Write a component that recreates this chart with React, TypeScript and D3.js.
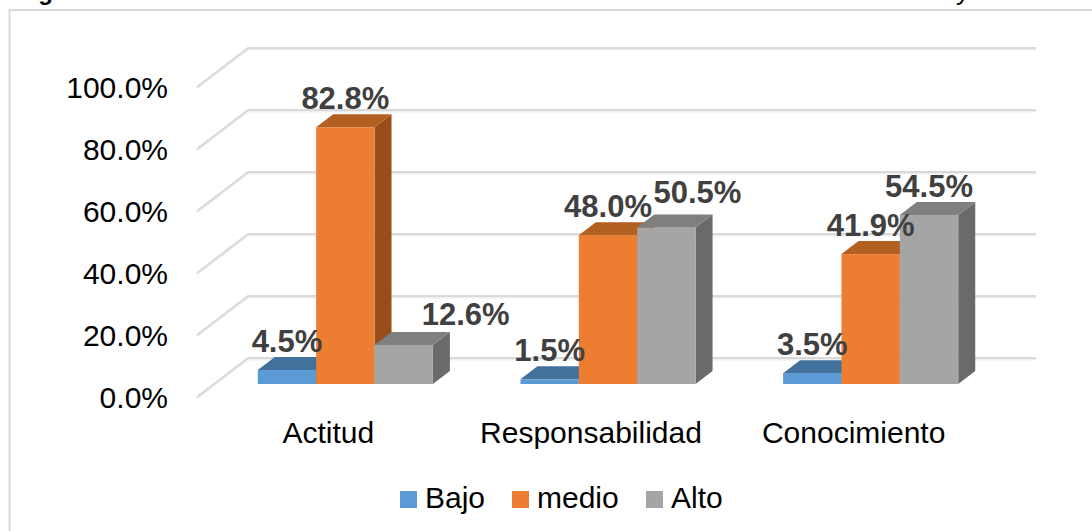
import React from "react";
import * as d3 from "d3";

const categories = ["Actitud", "Responsabilidad", "Conocimiento"];
const seriesNames = ["Bajo", "medio", "Alto"];
const bajo = [4.5, 1.5, 3.5];
const medio = [82.8, 48.0, 41.9];
const alto = [12.6, 50.5, 54.5];
const yTicks = [0, 20, 40, 60, 80, 100];

// Excel moved two labels aside to avoid collisions: [category, series, dx, extra lift]
const labelShifts: [number, number, number, number][] = [
  [0, 2, 62, 2],
  [1, 2, 31, 6],
];

const W = 1092;
const H = 531;
const FONT = "'Liberation Sans', Arial, sans-serif";

const fronts = ["#5B9BD5", "#ED7D31", "#A5A5A5"];
const tops = ["#43719E", "#B45F22", "#7F7F7F"];
const sides = ["#3A6590", "#9A4D1B", "#6A6A6A"];

export default function App() {
  const values = [bajo, medio, alto];
  const floorX0 = 197;
  const floorX1 = 985;
  const depthX = 51;
  const depthY = -39;
  const barDX = depthX / 3;
  const barDY = depthY / 3;

  const yFront = d3.scaleLinear().domain([0, 100]).range([397, 87]);
  const xCat = d3.scaleBand<string>().domain(categories).range([floorX0, floorX1]).padding(0);
  const step = xCat.step();
  const xSer = d3
    .scaleBand<string>()
    .domain(seriesNames)
    .range([0, step])
    .paddingInner(0)
    .paddingOuter(0.75);
  const bw = xSer.bandwidth();

  const yBar = (v: number) => yFront(v) + barDY;

  const bars: React.ReactNode[] = [];
  const labels: React.ReactNode[] = [];
  categories.forEach((cat, ci) => {
    seriesNames.forEach((s, si) => {
      const v = values[si][ci];
      const x0 = (xCat(cat) as number) + (xSer(s) as number) + barDX;
      const x1 = x0 + bw;
      const yt = yBar(v);
      const yb = yBar(0);
      const top = [
        [x0, yt],
        [x0 + barDX, yt + barDY],
        [x1 + barDX, yt + barDY],
        [x1, yt],
      ];
      const side = [
        [x1, yt],
        [x1 + barDX, yt + barDY],
        [x1 + barDX, yb + barDY],
        [x1, yb],
      ];
      const pts = (p: number[][]) => p.map((q) => q.join(",")).join(" ");
      bars.push(
        <g key={`${ci}-${si}`}>
          <polygon points={pts(side)} fill={sides[si]} />
          <rect x={x0} y={yt} width={bw} height={yb - yt} fill={fronts[si]} />
          <polygon points={pts(top)} fill={tops[si]} />
        </g>
      );
      const shift = labelShifts.find((d) => d[0] === ci && d[1] === si);
      const dx = shift ? shift[2] : 0;
      const lift = shift ? shift[3] : 0;
      labels.push(
        <text
          key={`l-${ci}-${si}`}
          x={x0 + bw / 2 + dx}
          y={yt + barDY - 5 - lift}
          textAnchor="middle"
          fontFamily={FONT}
          fontWeight="bold"
          fontSize={31}
          fill="#404040"
        >
          {v.toFixed(1) + "%"}
        </text>
      );
    });
  });

  const backX1 = floorX1 + depthX;

  return (
    <div style={{ position: "absolute", left: 0, top: 0 }}>
      <svg width={W} height={H} viewBox={`0 0 ${W} ${H}`}>
        <rect x={0} y={0} width={W} height={H} fill="#ffffff" />
        <text x={17} y={-0.5} fontFamily={FONT} fontWeight="bold" fontSize={24} fill="#000">
          Figura
        </text>
        <text x={958} y={-0.5} fontFamily={FONT} fontStyle="italic" fontSize={24} fill="#000">
          y
        </text>
        <rect x={9.5} y={10} width={W + 20} height={H + 20} fill="none" stroke="#d9d9d9" strokeWidth={2} />
        {yTicks.map((t) => {
          const yf = yFront(t);
          return (
            <g key={t}>
              <polyline
                points={`${floorX0},${yf + 1.5} ${floorX0 + depthX},${yf + depthY + 1.5} ${backX1},${yf + depthY + 1.5}`}
                fill="none"
                stroke="#efefef"
                strokeWidth={2}
              />
              <polyline
                points={`${floorX0},${yf} ${floorX0 + depthX},${yf + depthY} ${backX1},${yf + depthY}`}
                fill="none"
                stroke="#d9d9d9"
                strokeWidth={2}
              />
              <text
                x={168}
                y={yf}
                dy="0.36em"
                textAnchor="end"
                fontFamily={FONT}
                fontSize={30}
                fill="#000"
              >
                {t.toFixed(1) + "%"}
              </text>
            </g>
          );
        })}
        {bars}
        {labels}
        {categories.map((c) => (
          <text
            key={c}
            x={(xCat(c) as number) + step / 2}
            y={443}
            textAnchor="middle"
            fontFamily={FONT}
            fontSize={30}
            fill="#000"
          >
            {c}
          </text>
        ))}
        {seriesNames.map((s, i) => {
          const lx = [400, 512, 646][i];
          return (
            <g key={s}>
              <rect x={lx} y={491} width={17} height={17} fill={fronts[i]} />
              <text x={lx + 25} y={508} fontFamily={FONT} fontSize={30} fill="#000">
                {s}
              </text>
            </g>
          );
        })}
      </svg>
    </div>
  );
}
